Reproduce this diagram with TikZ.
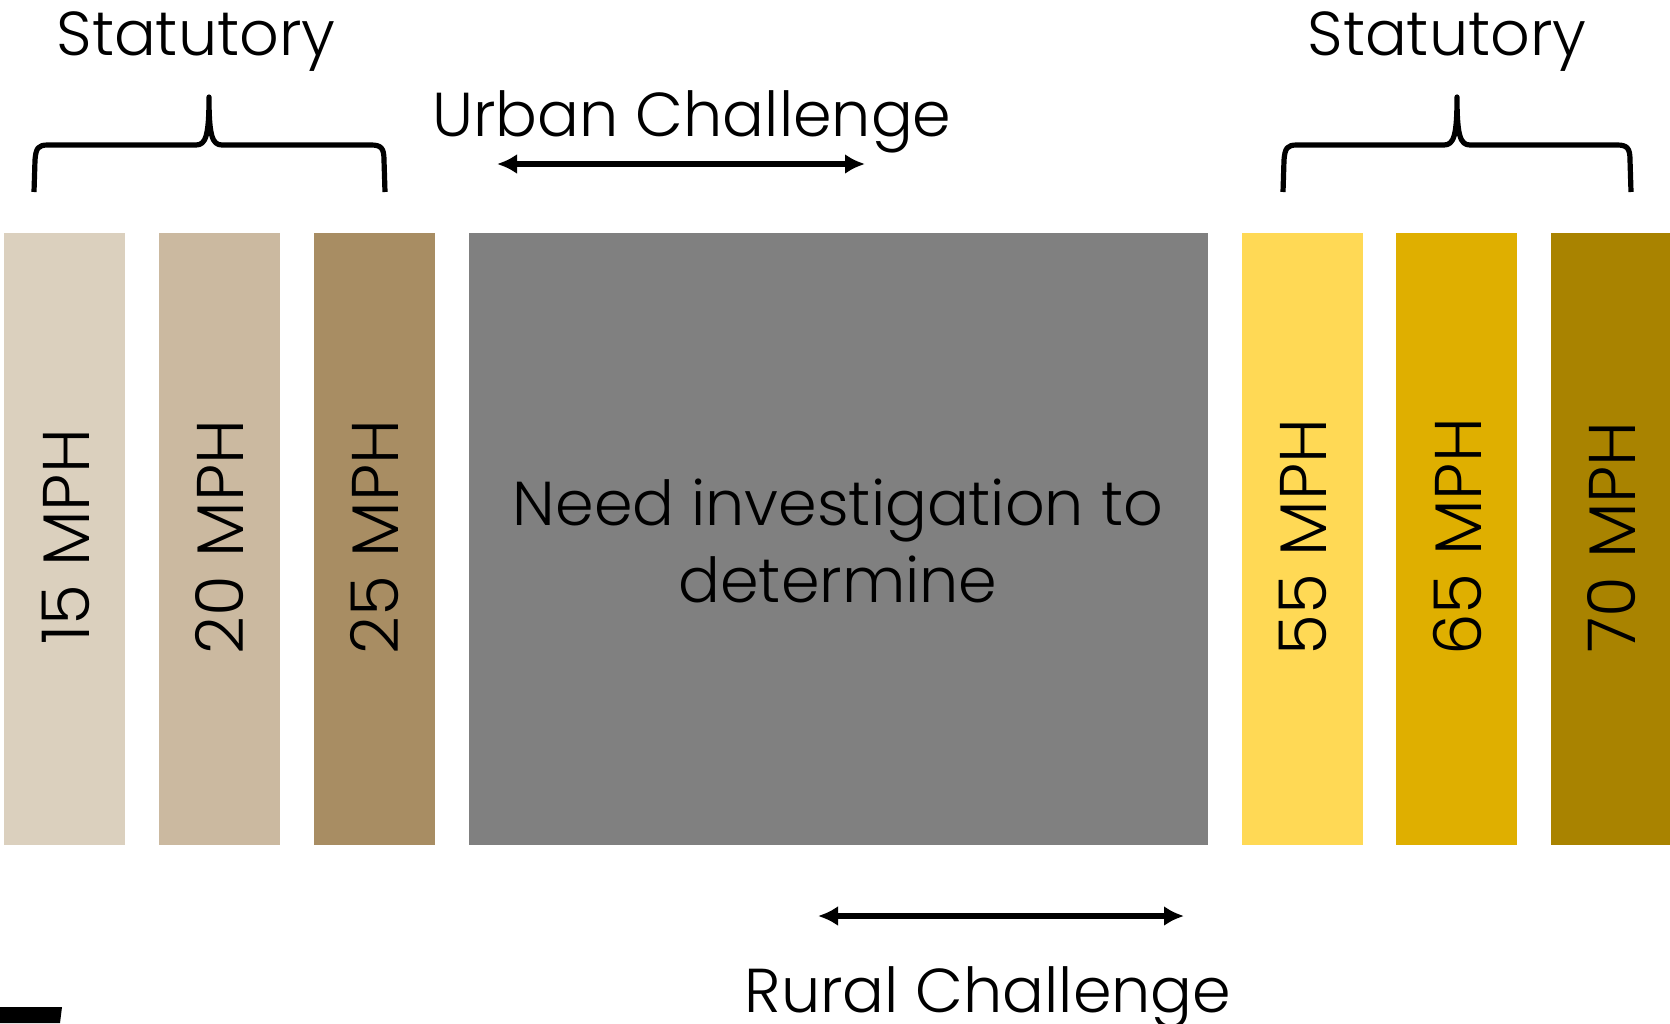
\documentclass[tikz,border=0pt]{standalone}
\usepackage{fontspec}
\setmainfont{Poppins}[UprightFont=* Light]
\usetikzlibrary{arrows.meta}
\definecolor{cA}{HTML}{DBD0BE}
\definecolor{cB}{HTML}{CBB9A0}
\definecolor{cC}{HTML}{A88D63}
\definecolor{cG}{HTML}{808080}
\definecolor{cD}{HTML}{FFD955}
\definecolor{cE}{HTML}{DFAF00}
\definecolor{cF}{HTML}{A98300}
\tikzset{
  lbl/.style={inner sep=0pt, font=\fontsize{31}{38.5}\selectfont, text=black},
  vlbl/.style={lbl, font=\fontsize{33}{38.5}\selectfont, rotate=90},
  brace/.style={line width=2.6pt, line cap=butt, line join=round},
  dblarrow/.style={line width=3pt, {Latex[length=10pt,width=10pt]}-{Latex[length=10pt,width=10pt]}},
}
\begin{document}
\begin{tikzpicture}[x=0.5pt,y=-0.5pt]
\useasboundingbox (0,0) rectangle (1670,1023);
% bars
\fill[cA] (4,233) rectangle (125,845);
\fill[cB] (159,233) rectangle (280,845);
\fill[cC] (314,233) rectangle (435,845);
\fill[cG] (469,233) rectangle (1208,845);
\fill[cD] (1242,233) rectangle (1363,845);
\fill[cE] (1396,233) rectangle (1517,845);
\fill[cF] (1551,233) rectangle (1672,845);
\node[vlbl] (t15) at (66,537) {15 MPH};
\node[vlbl] (t20) at (220,537) {20 MPH};
\node[vlbl] (t25) at (375,537) {25 MPH};
\node[vlbl] (t55) at (1303,537) {55 MPH};
\node[vlbl] (t65) at (1457,537) {65 MPH};
\node[vlbl] (t70) at (1612,537) {70 MPH};
\node[lbl, anchor=base] (need1) at (838,525) {Need investigation to};
\node[lbl, anchor=base] (need2) at (838,602) {determine};
% top labels
\node[lbl, anchor=base] (statL) at (196,55) {Statutory};
\node[lbl, anchor=base] (statR) at (1447,55) {Statutory};
\node[lbl, anchor=base] (urban) at (692,136) {Urban Challenge};
\node[lbl, anchor=base] (rural) at (988,1012) {Rural Challenge};
% braces
\draw[brace] (34,192) -- (35,160) .. controls (36,148) and (38,145) .. (48,145)
  -- (196,145) .. controls (206,145) and (209,135) .. (209,97)
  .. controls (209,135) and (212,145) .. (222,145) -- (371,145)
  .. controls (381,145) and (384,148) .. (384,160) -- (385,192);
\draw[brace] (1283,192) -- (1284,160) .. controls (1285,148) and (1287,145) .. (1297,145)
  -- (1444,145) .. controls (1454,145) and (1457,135) .. (1457,97)
  .. controls (1457,135) and (1460,145) .. (1470,145) -- (1617,145)
  .. controls (1627,145) and (1630,148) .. (1630,160) -- (1631,192);
% arrows
\coordinate (uA) at (497,164);
\coordinate (uB) at (865,164);
\coordinate (rA) at (818,916);
\coordinate (rB) at (1184,916);
\draw[dblarrow] (uA) -- (uB);
\draw[dblarrow] (rA) -- (rB);
% black mark
\fill[black] (0,1007) -- (62,1007) -- (60,1023) -- (0,1023) -- cycle;
\end{tikzpicture}
\end{document}
